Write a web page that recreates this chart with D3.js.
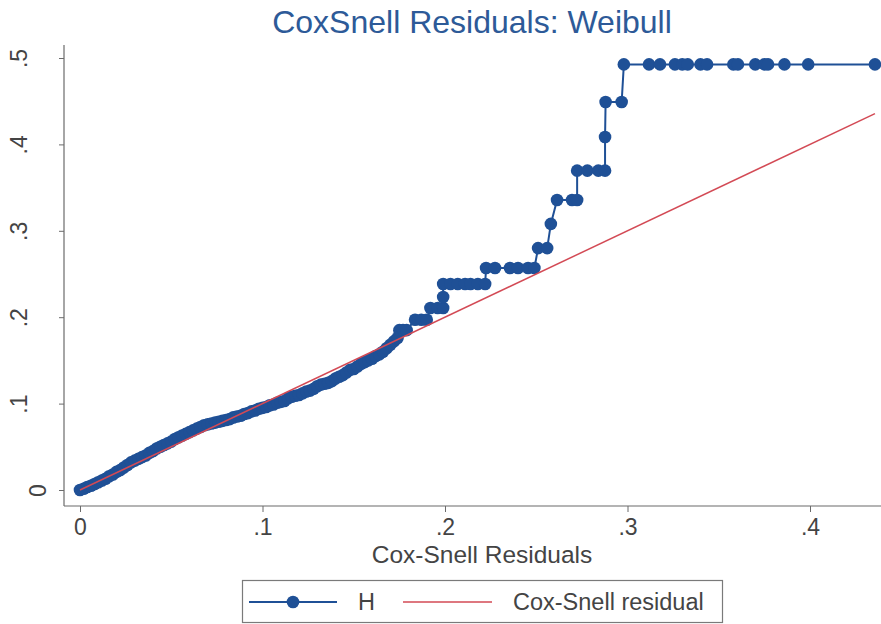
<!DOCTYPE html>
<html>
<head>
<meta charset="utf-8">
<script src="https://cdn.jsdelivr.net/npm/d3@7"></script>
<style>
  html, body { margin: 0; padding: 0; background: #ffffff; }
  svg { display: block; font-family: "Liberation Sans", Arial, sans-serif; }
</style>
</head>
<body>
<svg id="chart" width="881" height="624"></svg>
<script>
// Cox-Snell residuals (sorted) and the Nelson-Aalen cumulative hazard H at each
const csr = [
  0.000, 0.002, 0.004, 0.006, 0.008, 0.010, 0.012, 0.014, 0.016, 0.018,
  0.020, 0.022, 0.024, 0.026, 0.028, 0.030, 0.032, 0.034, 0.036, 0.038,
  0.040, 0.042, 0.044, 0.046, 0.048, 0.050, 0.052, 0.054, 0.056, 0.058,
  0.060, 0.062, 0.064, 0.066, 0.068, 0.070, 0.072, 0.074, 0.076, 0.078,
  0.080, 0.082, 0.084, 0.086, 0.088, 0.090, 0.092, 0.094, 0.096, 0.098,
  0.100, 0.102, 0.104, 0.106, 0.108, 0.110, 0.112, 0.114, 0.116, 0.118,
  0.120, 0.122, 0.124, 0.126, 0.128, 0.130, 0.132, 0.134, 0.136, 0.138,
  0.140, 0.142, 0.144, 0.146, 0.148, 0.150, 0.152, 0.154, 0.156, 0.158,
  0.160, 0.162, 0.164, 0.166, 0.168, 0.170, 0.172, 0.174,
  0.175, 0.177, 0.179,
  0.1836, 0.187, 0.190,
  0.192, 0.196, 0.199,
  0.199, 0.199,
  0.203, 0.207, 0.211, 0.214, 0.218, 0.222,
  0.2225, 0.2274, 0.2356, 0.240, 0.2455, 0.249,
  0.251, 0.256,
  0.258,
  0.2614, 0.2696, 0.2724,
  0.2724, 0.278, 0.284, 0.2877,
  0.2877,
  0.288, 0.2968,
  0.298, 0.3118, 0.3178, 0.326, 0.330, 0.333, 0.340, 0.3436,
  0.358, 0.3605, 0.370, 0.375, 0.377, 0.386, 0.399, 0.4356
];
const H = [
  0.000, 0.0015, 0.0035, 0.005, 0.007, 0.009, 0.011, 0.013, 0.016, 0.018,
  0.021, 0.023, 0.026, 0.029, 0.032, 0.034, 0.036, 0.038, 0.040, 0.043,
  0.045, 0.048, 0.050, 0.052, 0.054, 0.056, 0.059, 0.061, 0.063, 0.065,
  0.067, 0.069, 0.071, 0.073, 0.075, 0.076, 0.077, 0.078, 0.079, 0.080,
  0.081, 0.082, 0.084, 0.085, 0.086, 0.088, 0.089, 0.091, 0.092, 0.094,
  0.095, 0.096, 0.098, 0.099, 0.101, 0.102, 0.103, 0.106, 0.108, 0.109,
  0.110, 0.112, 0.114, 0.115, 0.117, 0.120, 0.122, 0.123, 0.124, 0.126,
  0.129, 0.131, 0.133, 0.136, 0.139, 0.140, 0.143, 0.146, 0.148, 0.150,
  0.152, 0.155, 0.157, 0.160, 0.164, 0.168, 0.172, 0.176,
  0.185, 0.185, 0.185,
  0.197, 0.197, 0.197,
  0.2106, 0.2106, 0.2106,
  0.2234, 0.2384,
  0.2384, 0.2384, 0.2384, 0.2384, 0.2384, 0.2384,
  0.257, 0.257, 0.257, 0.257, 0.257, 0.257,
  0.280, 0.280,
  0.308,
  0.3356, 0.3356, 0.3356,
  0.3696, 0.3696, 0.3696, 0.3696,
  0.4086,
  0.449, 0.449,
  0.4926, 0.4926, 0.4926, 0.4926, 0.4926, 0.4926, 0.4926, 0.4926,
  0.4926, 0.4926, 0.4926, 0.4926, 0.4926, 0.4926, 0.4926, 0.4926
];
const xTicks = [0, 0.1, 0.2, 0.3, 0.4];
const xTickLabels = ["0", ".1", ".2", ".3", ".4"];
const yTicks = [0, 0.1, 0.2, 0.3, 0.4, 0.5];
const yTickLabels = ["0", ".1", ".2", ".3", ".4", ".5"];
const titleText = "CoxSnell Residuals: Weibull";
const xTitle = "Cox-Snell Residuals";
const legendLabels = ["H", "Cox-Snell residual"];

const blue = "#1f5096";
const red = "#d34a55";
const axisColor = "#6b6b6b";
const textColor = "#444444";
const font = "Liberation Sans, Arial, sans-serif";

const svg = d3.select("#chart");
const pts = csr.map((v, i) => ({ x: v, h: H[i] }));

const x = d3.scaleLinear().domain([0, 0.44]).range([80, 80 + 0.44 * 1825]);
const y = d3.scaleLinear().domain([0, 0.5]).range([490, 58]);
const axisLeftX = 64, axisBottomY = 506;

// title
svg.append("text")
  .attr("x", 472).attr("y", 33)
  .attr("text-anchor", "middle")
  .attr("font-size", 32)
  .attr("fill", "#2d5a98")
  .text(titleText);

// axis lines
svg.append("line")
  .attr("x1", axisLeftX).attr("x2", axisLeftX)
  .attr("y1", 45).attr("y2", axisBottomY)
  .attr("stroke", axisColor).attr("stroke-width", 1.2);
svg.append("line")
  .attr("x1", axisLeftX).attr("x2", 881)
  .attr("y1", axisBottomY).attr("y2", axisBottomY)
  .attr("stroke", axisColor).attr("stroke-width", 1.2);

// x axis ticks and labels
const xAxis = svg.append("g")
  .attr("transform", `translate(0,${axisBottomY})`)
  .call(d3.axisBottom(x).tickValues(xTicks)
    .tickFormat((d, i) => xTickLabels[i]).tickSize(6).tickPadding(0));
xAxis.select(".domain").remove();
xAxis.selectAll(".tick line").attr("stroke", axisColor);
xAxis.selectAll(".tick text")
  .attr("font-size", 23).attr("fill", textColor)
  .attr("font-family", font)
  .attr("dy", null).attr("y", 29);

// y axis ticks and rotated labels
const yAxis = svg.append("g")
  .attr("transform", `translate(${axisLeftX},0)`)
  .call(d3.axisLeft(y).tickValues(yTicks)
    .tickFormat((d, i) => yTickLabels[i]).tickSize(5));
yAxis.select(".domain").remove();
yAxis.selectAll(".tick line").attr("stroke", axisColor);
yAxis.selectAll(".tick text")
  .attr("font-size", 23).attr("fill", textColor)
  .attr("font-family", font)
  .attr("text-anchor", "middle")
  .attr("dy", null).attr("x", null)
  .attr("transform", d => `translate(${d === 0 ? -18 : -37},0) rotate(-90)`);

// x axis title
svg.append("text")
  .attr("x", 482).attr("y", 563)
  .attr("text-anchor", "middle")
  .attr("font-size", 24.5).attr("fill", textColor)
  .text(xTitle);

// reference line y = x over the residual range
const ext = d3.extent(csr);

// cumulative hazard: connected markers
const line = d3.line().x(d => x(d.x)).y(d => y(d.h));
svg.append("path")
  .datum(pts)
  .attr("d", line)
  .attr("fill", "none")
  .attr("stroke", blue).attr("stroke-width", 2);
svg.append("g").selectAll("circle")
  .data(pts).join("circle")
  .attr("cx", d => x(d.x)).attr("cy", d => y(d.h))
  .attr("r", 6.3).attr("fill", blue);

// reference line drawn over the markers
svg.append("line")
  .attr("x1", x(ext[0])).attr("y1", y(ext[0]))
  .attr("x2", x(ext[1])).attr("y2", y(ext[1]))
  .attr("stroke", red).attr("stroke-width", 1.5);

// legend
const lg = svg.append("g");
lg.append("rect")
  .attr("x", 242.5).attr("y", 580.5).attr("width", 480).attr("height", 42)
  .attr("fill", "#ffffff").attr("stroke", "#7a7a7a").attr("stroke-width", 1.2);
lg.append("line")
  .attr("x1", 249).attr("x2", 337).attr("y1", 602).attr("y2", 602)
  .attr("stroke", blue).attr("stroke-width", 2);
lg.append("circle").attr("cx", 293).attr("cy", 602).attr("r", 6.3).attr("fill", blue);
lg.append("text")
  .attr("x", 358).attr("y", 610)
  .attr("font-size", 23.5).attr("fill", textColor)
  .text(legendLabels[0]);
lg.append("line")
  .attr("x1", 403).attr("x2", 492).attr("y1", 602).attr("y2", 602)
  .attr("stroke", red).attr("stroke-width", 1.5);
lg.append("text")
  .attr("x", 513).attr("y", 610)
  .attr("font-size", 23.5).attr("fill", textColor)
  .text(legendLabels[1]);
</script>
</body>
</html>
